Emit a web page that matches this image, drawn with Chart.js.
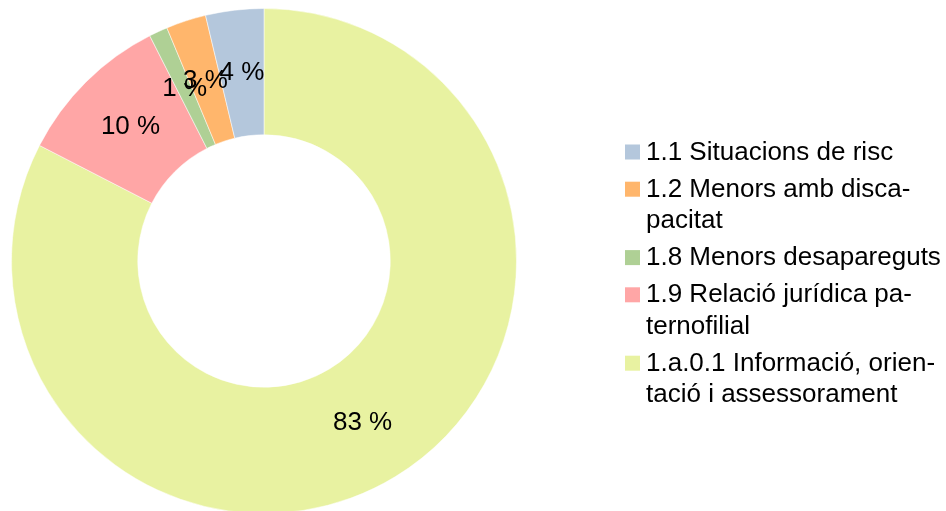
<!DOCTYPE html>
<html>
<head>
<meta charset="utf-8">
<script src="https://cdn.jsdelivr.net/npm/chart.js@4/dist/chart.umd.min.js"></script>
<style>
  html, body { margin: 0; padding: 0; background: #ffffff; overflow: hidden; width: 946px; height: 511px; }
  #wrap { position: absolute; left: 0; top: 0; width: 946px; height: 520px; }
</style>
</head>
<body>
<div id="wrap"><canvas id="c" width="946" height="520"></canvas></div>
<script>
const categories = [
  "1.1 Situacions de risc",
  "1.2 Menors amb discapacitat",
  "1.8 Menors desapareguts",
  "1.9 Relació jurídica paternofilial",
  "1.a.0.1 Informació, orientació i assessorament"
];
const legendLines = [
  ["1.1 Situacions de risc"],
  ["1.2 Menors amb disca-", "pacitat"],
  ["1.8 Menors desapareguts"],
  ["1.9 Relació jurídica pa-", "ternofilial"],
  ["1.a.0.1 Informació, orien-", "tació i assessorament"]
];
const shares = [3.72, 2.56, 1.19, 9.96, 82.57];
const colors = ["#b4c7dc", "#ffb66c", "#afd095", "#ffa6a6", "#e8f2a1"];

const total = shares.reduce((a, b) => a + b, 0);

// Slices run counter-clockwise from the top in the reference, so the
// dataset is fed in reverse order (clockwise in Chart.js).
const order = shares.map((_, i) => i).reverse();
const dsLabels = order.map(i => categories[i]);
const dsData = order.map(i => shares[i]);
const dsColors = order.map(i => colors[i]);

const FONT = '"Liberation Sans", Arial, sans-serif';

const labelPlugin = {
  id: 'sliceLabels',
  afterDatasetsDraw(chart) {
    const ctx = chart.ctx;
    const meta = chart.getDatasetMeta(0);
    ctx.save();
    ctx.font = '26px ' + FONT;
    ctx.fillStyle = '#000000';
    ctx.textAlign = 'center';
    ctx.textBaseline = 'middle';
    meta.data.forEach((arc, k) => {
      const p = arc.getProps(['x', 'y', 'startAngle', 'endAngle', 'innerRadius', 'outerRadius'], true);
      const mid = (p.startAngle + p.endAngle) / 2;
      const r = (p.innerRadius + p.outerRadius) / 2;
      const x = p.x + Math.cos(mid) * r;
      const y = p.y + Math.sin(mid) * r;
      const pct = Math.round(dsData[k] / total * 100);
      ctx.fillText(pct + ' %', x, y);
    });
    ctx.restore();
  }
};

const legendPlugin = {
  id: 'customLegend',
  afterDraw(chart) {
    const ctx = chart.ctx;
    ctx.save();
    ctx.font = '26px ' + FONT;
    ctx.textAlign = 'left';
    ctx.textBaseline = 'alphabetic';
    let baseline = 159.5;
    const lineH = 31.2, gap = 37.2;
    legendLines.forEach((lines, i) => {
      ctx.fillStyle = colors[i];
      ctx.fillRect(625, baseline - 15, 15, 15);
      ctx.fillStyle = '#000000';
      lines.forEach((ln, j) => {
        ctx.fillText(ln, 646, baseline + j * lineH);
      });
      baseline += (lines.length - 1) * lineH + gap;
    });
    ctx.restore();
  }
};

new Chart(document.getElementById('c'), {
  type: 'doughnut',
  data: {
    labels: dsLabels,
    datasets: [{
      data: dsData,
      backgroundColor: dsColors,
      borderColor: 'rgba(255,255,255,0.5)',
      borderWidth: 1
    }]
  },
  options: {
    responsive: false,
    devicePixelRatio: 1,
    animation: false,
    cutout: '50%',
    rotation: 0,
    layout: { padding: { left: 11, top: 8, right: 429, bottom: 6 } },
    plugins: {
      legend: { display: false },
      tooltip: { enabled: false },
      title: { display: false }
    }
  },
  plugins: [labelPlugin, legendPlugin]
});
</script>
</body>
</html>
